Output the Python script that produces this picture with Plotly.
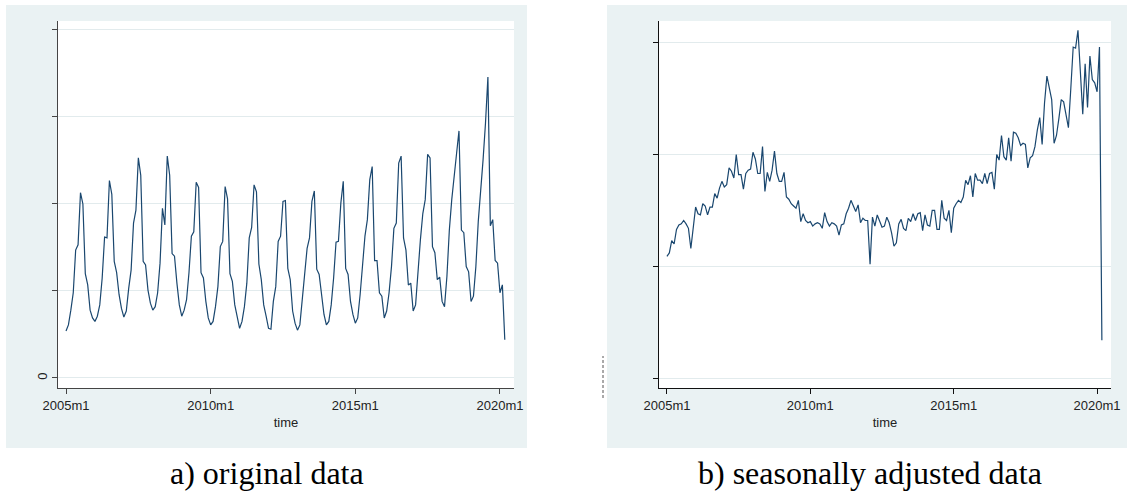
import pandas as pd
import plotly.graph_objects as go

# ---------------- data (monthly, 2005m1 .. 2020m3) ----------------
start_period = "2005-01"

original = [
    0.54, 0.61, 0.78, 0.98, 1.47, 1.53, 2.13, 2.00, 1.20, 1.07, 0.78, 0.69,   # 2005
    0.65, 0.71, 0.84, 1.15, 1.62, 1.61, 2.27, 2.11, 1.34, 1.21, 0.96, 0.80,   # 2006
    0.70, 0.77, 1.03, 1.24, 1.78, 1.93, 2.53, 2.33, 1.34, 1.30, 1.01, 0.86,   # 2007
    0.78, 0.82, 0.98, 1.32, 1.95, 1.76, 2.55, 2.33, 1.43, 1.40, 1.09, 0.84,   # 2008
    0.71, 0.78, 0.90, 1.21, 1.63, 1.68, 2.25, 2.19, 1.21, 1.15, 0.88, 0.69,   # 2009
    0.61, 0.65, 0.82, 1.05, 1.51, 1.57, 2.20, 2.06, 1.20, 1.11, 0.84, 0.69,   # 2010
    0.57, 0.65, 0.82, 1.09, 1.61, 1.73, 2.22, 2.14, 1.31, 1.13, 0.84, 0.71,   # 2011
    0.57, 0.56, 0.88, 1.05, 1.57, 1.63, 2.03, 2.04, 1.26, 1.13, 0.77, 0.63,   # 2012
    0.55, 0.61, 0.90, 1.11, 1.49, 1.61, 2.03, 2.15, 1.25, 1.19, 0.96, 0.73,   # 2013
    0.61, 0.65, 0.84, 1.15, 1.56, 1.57, 2.01, 2.26, 1.26, 1.19, 0.88, 0.73,   # 2014
    0.63, 0.69, 0.96, 1.28, 1.63, 1.82, 2.28, 2.43, 1.35, 1.35, 0.98, 0.94,   # 2015
    0.69, 0.77, 0.98, 1.28, 1.72, 1.78, 2.47, 2.55, 1.61, 1.47, 1.07, 1.09,   # 2016
    0.77, 0.84, 1.24, 1.59, 1.89, 2.05, 2.57, 2.53, 1.51, 1.44, 1.13, 1.16,   # 2017
    0.88, 0.82, 1.17, 1.70, 2.05, 2.28, 2.58, 2.84, 1.70, 1.67, 1.28, 1.22,   # 2018
    0.88, 0.94, 1.28, 1.80, 2.12, 2.51, 2.93, 3.46, 1.75, 1.82, 1.35, 1.32,   # 2019
    0.98, 1.07, 0.44,                                                         # 2020
]

adjusted = [
    1.09, 1.12, 1.23, 1.20, 1.33, 1.37, 1.38, 1.41, 1.38, 1.34, 1.16, 1.34,   # 2005
    1.53, 1.47, 1.46, 1.56, 1.54, 1.46, 1.53, 1.53, 1.65, 1.61, 1.70, 1.76,   # 2006
    1.71, 1.73, 1.88, 1.85, 1.79, 2.00, 1.82, 1.82, 1.69, 1.83, 1.86, 1.87,   # 2007
    2.02, 1.96, 1.83, 1.83, 2.07, 1.67, 1.84, 1.76, 1.86, 2.03, 1.83, 1.76,   # 2008
    1.76, 1.84, 1.62, 1.60, 1.56, 1.54, 1.52, 1.59, 1.40, 1.47, 1.41, 1.39,   # 2009
    1.40, 1.36, 1.38, 1.39, 1.38, 1.34, 1.48, 1.40, 1.36, 1.39, 1.38, 1.36,   # 2010
    1.28, 1.37, 1.38, 1.47, 1.52, 1.59, 1.54, 1.49, 1.55, 1.39, 1.43, 1.41,   # 2011
    1.41, 1.02, 1.44, 1.36, 1.46, 1.41, 1.35, 1.36, 1.44, 1.39, 1.30, 1.18,   # 2012
    1.21, 1.38, 1.42, 1.34, 1.32, 1.43, 1.40, 1.47, 1.41, 1.47, 1.48, 1.32,   # 2013
    1.46, 1.37, 1.36, 1.50, 1.50, 1.33, 1.33, 1.59, 1.43, 1.41, 1.50, 1.30,   # 2014
    1.52, 1.56, 1.59, 1.57, 1.62, 1.77, 1.73, 1.81, 1.62, 1.83, 1.77, 1.77,   # 2015
    1.74, 1.83, 1.74, 1.83, 1.84, 1.69, 2.00, 1.95, 2.17, 1.98, 1.95, 2.15,   # 2016
    1.94, 2.20, 2.19, 2.15, 2.08, 2.10, 2.09, 1.88, 1.97, 1.99, 2.07, 2.22,   # 2017
    2.33, 2.09, 2.46, 2.70, 2.60, 2.49, 2.10, 2.17, 2.32, 2.49, 2.47, 2.37,   # 2018
    2.24, 2.59, 2.96, 2.95, 3.11, 2.74, 2.36, 2.81, 2.42, 2.88, 2.67, 2.64,   # 2019
    2.56, 2.96, 0.34,                                                         # 2020
]

x_tick_years = [2005, 2010, 2015, 2020]
x_tick_labels = ["2005m1", "2010m1", "2015m1", "2020m1"]
left_y_ticks = [0, 1, 2, 3, 4]
left_y_labels = ["0", "", "", "", ""]
right_y_ticks = [0, 1, 2, 3]
right_y_labels = ["", "", "", ""]
x_title = "time"
captions = ["a) original data", "b) seasonally adjusted data"]

# ---------------- build ----------------
periods = pd.period_range(start_period, periods=len(original), freq="M")
t = [p.year + (p.month - 1) / 12 for p in periods]

W, H = 1127, 491
LINE = "#1A476F"
GRAYBG = "#EAF2F3"
GRID = "#E2EBED"


def px_x(v):
    return v / W


def px_y(v):
    return 1 - v / H


fig = go.Figure()
fig.add_trace(go.Scatter(x=t, y=original, mode="lines", line=dict(color=LINE, width=1.2),
                         xaxis="x", yaxis="y", showlegend=False))
fig.add_trace(go.Scatter(x=t, y=adjusted, mode="lines", line=dict(color=LINE, width=1.2),
                         xaxis="x2", yaxis="y2", showlegend=False))

ydom = [px_y(388), px_y(21)]
xrange_ = [2004.723, 2020.485]

common_x = dict(range=xrange_, tickmode="array", tickvals=x_tick_years, ticktext=x_tick_labels,
                ticks="outside", ticklen=5, showgrid=False, zeroline=False, showline=True,
                linewidth=1, automargin=False,
                tickfont=dict(family="Liberation Sans", size=13, color="#222"),
                title=dict(text=x_title, font=dict(family="Liberation Sans", size=13, color="#222"),
                           standoff=6))
common_y = dict(ticks="outside", ticklen=5, showgrid=True, gridcolor=GRID, gridwidth=1,
                zeroline=False, showline=True, linewidth=1, tickangle=-90, tickmode="array",
                automargin=False,
                tickfont=dict(family="Liberation Sans", size=13, color="#222"))

fig.update_layout(
    width=W, height=H, margin=dict(l=0, r=0, t=0, b=0, pad=0), autosize=False,
    paper_bgcolor="white", plot_bgcolor="white",
    xaxis=dict(domain=[px_x(58), px_x(514)], anchor="y", linecolor="#444", tickcolor="#444", **common_x),
    yaxis=dict(domain=ydom, anchor="x", range=[-0.115, 4.103], tickvals=left_y_ticks,
               ticktext=left_y_labels, linecolor="#444", tickcolor="#444", **common_y),
    xaxis2=dict(domain=[px_x(659), px_x(1111)], anchor="y2", linecolor="#111", tickcolor="#111", **common_x),
    yaxis2=dict(domain=ydom, anchor="x2", range=[-0.087, 3.193], tickvals=right_y_ticks,
                ticktext=right_y_labels, linecolor="#111", tickcolor="#111", **common_y),
    showlegend=False,
)

shapes = [
    dict(type="rect", xref="paper", yref="paper", x0=px_x(6), x1=px_x(527), y0=px_y(448), y1=px_y(5),
         fillcolor=GRAYBG, line=dict(width=0), layer="below"),
    dict(type="rect", xref="paper", yref="paper", x0=px_x(607), x1=1.0, y0=px_y(448), y1=px_y(5),
         fillcolor=GRAYBG, line=dict(width=0), layer="below"),
    dict(type="rect", xref="paper", yref="paper", x0=px_x(58), x1=px_x(514), y0=px_y(388), y1=px_y(21),
         fillcolor="white", line=dict(width=0), layer="below"),
    dict(type="rect", xref="paper", yref="paper", x0=px_x(659), x1=px_x(1111), y0=px_y(388), y1=px_y(21),
         fillcolor="white", line=dict(width=0), layer="below"),
    dict(type="line", xref="paper", yref="paper", x0=px_x(603), x1=px_x(603), y0=px_y(398), y1=px_y(356),
         line=dict(color="#555", width=1, dash="3px,2px"), layer="above"),
]
fig.update_layout(shapes=shapes)

fig.add_annotation(text=captions[0], x=px_x(267), y=px_y(473), xref="paper", yref="paper",
                   showarrow=False, xanchor="center", yanchor="middle",
                   font=dict(family="Liberation Serif", size=32, color="black"))
fig.add_annotation(text=captions[1], x=px_x(870), y=px_y(473), xref="paper", yref="paper",
                   showarrow=False, xanchor="center", yanchor="middle",
                   font=dict(family="Liberation Serif", size=32, color="black"))

fig.write_html("out.html")
